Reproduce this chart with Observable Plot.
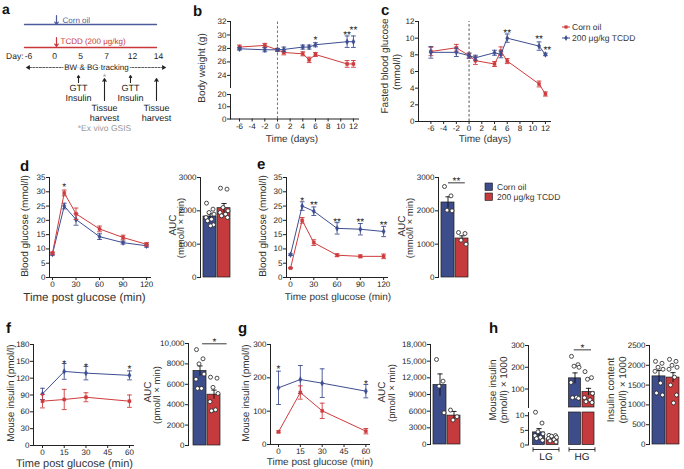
<!DOCTYPE html>
<html>
<head>
<meta charset="utf-8">
<script src="https://cdn.jsdelivr.net/npm/d3@7"></script>
<script src="https://cdn.jsdelivr.net/npm/@observablehq/plot@0.6"></script>
<style>
html, body { margin: 0; padding: 0; background: #fff; }
#root { position: relative; width: 684px; height: 469px; overflow: hidden; background: #fff; }
#root svg { position: absolute; overflow: visible; }
#root text { text-rendering: geometricPrecision; }
</style>
</head>
<body>
<div id="root"></div>
<script>
// ================= DATA =================
// panel a (schematic)
const schemeDays = ["-6", "0", "5", "7", "12", "14"];
const schemeEventDays = ["5", "7", "12", "14"];
const schemeEventLine1 = ["GTT", "Tissue", "GTT", "Tissue"];
const schemeEventLine2 = ["Insulin", "harvest", "Insulin", "harvest"];
const schemeEventHarvest = [false, true, false, true];
const schemeGroups = ["Corn oil", "TCDD (200 μg/kg)"];

// panel b: body weight (g)
const bDays = [-6, -2, 0, 1, 4, 5, 6, 11, 12];
const bRedMean = [28.2, 28.45, 27.8, 27.4, 27.2, 26.3, 27.1, 25.7, 25.7];
const bRedSem = [0.3, 0.3, 0.2, 0.35, 0.3, 0.4, 0.3, 0.5, 0.5];
const bBlueMean = [27.95, 27.8, 27.8, 27.85, 28.2, 28.2, 28.55, 29.0, 29.0];
const bBlueSem = [0.2, 0.3, 0.2, 0.35, 0.3, 0.3, 0.3, 0.85, 0.85];
const bStarDays = [6, 11, 12];
const bStarLevel = [29.6, 30.4, 31.15];
const bStarText = ["*", "**", "**"];
const dayTicks = [-6, -4, -2, 0, 2, 4, 6, 8, 10, 12];
const bTicksUpper = [24, 26, 28, 30, 32];
const bTicksLower = [0, 10, 20];

// panel c: fasted blood glucose (mmol/l)
const cDays = [-6, -2, 0, 1, 4, 5, 6, 11, 12];
const cRedMean = [8.4, 8.85, 7.9, 7.3, 6.9, 8.45, 7.25, 4.5, 3.3];
const cRedSem = [0.5, 0.4, 0.3, 0.45, 0.3, 0.5, 0.3, 0.35, 0.25];
const cBlueMean = [8.3, 8.3, 7.9, 7.65, 8.25, 8.05, 10.0, 9.05, 8.05];
const cBlueSem = [0.7, 0.5, 0.3, 0.3, 0.3, 0.4, 0.5, 0.5, 0.15];
const cStarDays = [6, 11, 12.3];
const cStarLevel = [11.0, 10.2, 8.9];
const cStarText = ["**", "**", "**"];
const cTicksY = [0, 2, 4, 6, 8, 10, 12];
const cLegend = ["Corn oil", "200 μg/kg TCDD"];

// panel d: GTT day 5
const gttMinutes = [0, 15, 30, 60, 90, 120];
const gttTicks = [0, 30, 60, 90, 120];
const glucoseTicks = [0, 5, 10, 15, 20, 25, 30, 35];
const dRedMean = [8.5, 29.6, 22.3, 17.0, 14.0, 11.6];
const dRedSem = [0.4, 1.0, 2.0, 1.0, 0.8, 0.6];
const dBlueMean = [8.2, 25.0, 20.3, 14.3, 12.2, 11.1];
const dBlueSem = [0.4, 1.0, 2.0, 1.0, 0.5, 0.5];
const dStarMinutes = [15];
const dStarLevel = [32.5];
const dStarText = ["*"];
const dAucMean = [1830, 2080];
const dAucSem = [80, 140];
const dAucBlue = [2230, 2050, 1950, 1900, 1800, 1750, 1700, 1580, 1550];
const dAucRed = [2680, 2650, 2100, 2000, 1950, 1900, 1850, 1800];
const aucGlucoseTicks = [0, 1000, 2000, 3000];

// panel e: GTT day 12
const eBlueMean = [8.0, 25.0, 23.2, 17.2, 16.9, 16.1];
const eBlueSem = [0.3, 1.5, 1.5, 2.0, 2.0, 1.8];
const eRedMean = [3.3, 20.0, 12.2, 7.8, 7.4, 7.4];
const eRedSem = [0.2, 1.0, 1.0, 0.5, 0.5, 0.8];
const eStarMinutes = [15, 30, 60, 90, 120];
const eStarLevel = [27.8, 26.4, 20.5, 20.5, 19.4];
const eStarText = ["*", "**", "**", "**", "**"];
const eAucMean = [2250, 1170];
const eAucSem = [170, 80];
const eAucBlue = [2730, 2450, 2020, 2000];
const eAucRed = [1350, 1320, 1120, 1000];
const eSigSpan = [0, 1.2];
const eSigLevel = [2840, 2990];
const eSigText = "**";

// panel f: insulin day 5
const insMinutes = [0, 15, 30, 60];
const insTicks = [0, 15, 30, 45, 60];
const fBlueMean = [92, 132, 129, 125];
const fBlueSem = [10, 14, 12, 8];
const fRedMean = [79, 82, 86, 79];
const fRedSem = [12, 18, 8, 11];
const fTicksY = [0, 30, 60, 90, 120, 150, 180];
const fStarMinutes = [15, 30, 60];
const fStarLevel = [150, 145.5, 141];
const fStarText = ["*", "*", "*"];
const fAucMean = [7300, 4980];
const fAucSem = [500, 450];
const fAucBlue = [9400, 8500, 8000, 7000, 6500, 5600, 5600];
const fAucRed = [6700, 6600, 5700, 5100, 4300, 3500, 3400];
const fAucTicks = [0, 2000, 4000, 6000, 8000, 10000];
const fSigSpan = [0.15, 1.9];
const fSigLevel = [9970, 10450];
const fSigText = "*";

// panel g: insulin day 12
const gBlueMean = [170, 195, 184, 160];
const gBlueSem = [50, 42, 43, 20];
const gRedMean = [38, 156, 101, 40];
const gRedSem = [3, 20, 23, 8];
const gTicksY = [0, 100, 200, 300];
const gStarMinutes = [0, 60];
const gStarLevel = [234, 189];
const gStarText = ["*", "*"];
const gAucMean = [10700, 5200];
const gAucSem = [2000, 750];
const gAucBlue = [15300, 11400, 10500, 5700];
const gAucRed = [6200, 5000, 4400];
const gAucTicks = [0, 3000, 6000, 9000, 12000, 15000, 18000];

// panel h: ex vivo GSIS
const hGroups = ["LG", "HG"];
const hBlueMean = [4.3, 149];
const hBlueSem = [1.3, 25];
const hRedMean = [2.0, 86];
const hRedSem = [0.35, 17];
const hBlueDots = [[11.2, 7.5, 4.5, 3.8, 3.2, 2.6, 2.2, 1.6], [250, 212, 205, 200, 130, 62, 60, 57]];
const hRedDots = [[3.3, 3.2, 3.0, 2.6, 2.2, 1.8, 1.4, 1.0], [180, 152, 145, 80, 60, 50, 42, 38]];
const hTicksUpper = [100, 200, 300];
const hTicksLower = [0, 5, 10];
const hSigSpan = [0.77, 1.25];
const hSigLevel = [280, 300];
const hSigText = "*";
const contentMean = [1720, 1690];
const contentSem = [150, 125];
const contentBlue = [2100, 2050, 1950, 1900, 1850, 1550, 1300, 1250];
const contentRed = [2150, 2100, 2000, 1950, 1900, 1700, 1500, 1250, 1050];
const contentTicks = [0, 500, 1000, 1500, 2000, 2500];

const barLegend = ["Corn oil", "200 μg/kg TCDD"];

// ================= STYLE / HELPERS =================
const W = 684, H = 469;
const FONT = '"Liberation Sans", Arial, Helvetica, sans-serif';
const INK = "#222";
const TITLE_INK = "#333";
const BLUE = "#3e4e91", RED = "#cf3b3c";
const BAR_BLUE = "#3d4d8b", BAR_RED = "#c53a3c";
const SCHEME_BLUE = "#4c5b9b", SCHEME_RED = "#c8383b";
const DASH_GRAY = "#666";
const AX = {tickSize: 3, tickPadding: 1, line: true, label: null};
const root = document.getElementById("root");

const CAP = {draw(ctx, size) { const r = Math.sqrt(size / Math.PI); ctx.moveTo(-r, 0); ctx.lineTo(r, 0); }};
const VBAR = {draw(ctx, size) { const r = Math.sqrt(size / Math.PI); ctx.moveTo(0, -r); ctx.lineTo(0, r); }};
const JIT = [-3.5, 3, -1, 4, -4, 1.5, -2.5, 3.5, 0.5];
const thousands = d => d >= 10000 ? d3.format(",")(d) : String(d);
const plain = d => String(d);

function place(f, opts) {
  const ml = f.ml ?? 30, mr = f.mr ?? 6, mt = f.mt ?? 6, mb = f.mb ?? 18;
  const svg = Plot.plot({
    width: f.x1 - f.x0 + ml + mr,
    height: f.y1 - f.y0 + mt + mb,
    marginLeft: ml, marginRight: mr, marginTop: mt, marginBottom: mb,
    style: {fontFamily: FONT, fontSize: "8px", color: INK, background: "transparent", overflow: "visible"},
    ...opts
  });
  svg.style.position = "absolute";
  svg.style.left = (f.x0 - ml) + "px";
  svg.style.top = (f.y0 - mt) + "px";
  root.appendChild(svg);
  return svg;
}

const rowsOf = (t, m, e) => t.map((v, i) => ({t: v, m: m[i], e: e[i]}));
const starsOf = (t, y, s) => t.map((v, i) => ({t: v, y: y[i], s: s[i]}));

function seriesMarks(rows, color, symbol, r) {
  return [
    Plot.line(rows, {x: "t", y: "m", stroke: color, strokeWidth: 1}),
    Plot.ruleX(rows, {x: "t", y1: d => d.m - d.e, y2: d => d.m + d.e, stroke: color, strokeWidth: 0.9}),
    Plot.dot(rows, {x: "t", y: d => d.m + d.e, symbol: CAP, r: 2.4, stroke: color, fill: "none", strokeWidth: 0.9}),
    Plot.dot(rows, {x: "t", y: d => d.m - d.e, symbol: CAP, r: 2.4, stroke: color, fill: "none", strokeWidth: 0.9}),
    Plot.dot(rows, {x: "t", y: "m", symbol, r, fill: color, stroke: color, strokeWidth: 0.3})
  ];
}
const starMarks = stars => Plot.text(stars, {x: "t", y: "y", text: "s", fontSize: 10, dy: 2.5, fill: INK});

function barMarks({g, m, e, dots, fill, unit, halfPx = 6.5, base = 0, top = Infinity, detail = true}) {
  const w = halfPx / unit;
  const bar = [{g, m, e}];
  const pts = dots.map((v, i) => ({x: g + JIT[i % JIT.length] / unit, v}));
  const out = [
    Plot.rect(bar, {x1: d => d.g - w, x2: d => d.g + w, y1: base, y2: d => Math.min(d.m, top),
      fill, stroke: "#1a1a1a", strokeWidth: 0.7})
  ];
  if (detail) out.push(
    Plot.ruleX(bar, {x: "g", y1: d => d.m - d.e, y2: d => d.m + d.e, stroke: "#111", strokeWidth: 0.9}),
    Plot.dot(bar, {x: "g", y: d => d.m + d.e, symbol: CAP, r: 2.6, stroke: "#111", fill: "none", strokeWidth: 0.9}),
    Plot.dot(pts, {x: "x", y: "v", r: 2, fill: "white", stroke: "#222", strokeWidth: 0.8})
  );
  return out;
}

function sigMarks(span, level, label) {
  return [
    Plot.link([{a: span[0], b: span[1], y: level[0]}], {x1: "a", x2: "b", y1: "y", y2: "y", stroke: INK, strokeWidth: 0.9}),
    Plot.text([{x: (span[0] + span[1]) / 2, y: level[1], s: label}], {x: "x", y: "y", text: "s", fontSize: 10, dy: 2.5, fill: INK})
  ];
}

function aucPanel(f, yDomain, yTicks, means, sems, dotsBlue, dotsRed, extra = []) {
  const unit = 14;
  return place({x0: f.x0, x1: f.x1, y0: f.y0, y1: f.y1, mb: 4}, {
    x: {domain: [(f.x0 - f.bc) / unit, (f.x1 - f.bc) / unit], axis: null},
    y: {domain: yDomain, ticks: yTicks, tickFormat: thousands, ...AX},
    marks: [
      ...barMarks({g: 0, m: means[0], e: sems[0], dots: dotsBlue, fill: BAR_BLUE, unit}),
      ...barMarks({g: 1, m: means[1], e: sems[1], dots: dotsRed, fill: BAR_RED, unit}),
      ...extra
    ]
  });
}

// ================= PANEL a (schematic) =================
{
  const events = schemeEventDays.map((d, i) => ({day: d, l1: schemeEventLine1[i], l2: schemeEventLine2[i], harvest: schemeEventHarvest[i]}));
  place({x0: 26, x1: 156, y0: 0, y1: 140, ml: 26, mr: 14, mt: 0, mb: 0}, {
    x: {type: "point", domain: schemeDays, padding: 0, axis: null},
    y: {domain: [0, 140], range: [0, 140], axis: null},
    marks: [
      Plot.arrow([{a: "-6", b: "14"}], {x1: "a", x2: "b", y1: 24, y2: 24, headLength: 0, insetStart: -2, stroke: SCHEME_BLUE, strokeWidth: 1.3}),
      Plot.arrow([{a: "-6", b: "14"}], {x1: "a", x2: "b", y1: 47, y2: 47, headLength: 0, insetStart: -2, stroke: SCHEME_RED, strokeWidth: 1.3}),
      Plot.arrow([{d: "0"}], {x1: "d", x2: "d", y1: 15, y2: 24, headLength: 4, headAngle: 70, stroke: SCHEME_BLUE, strokeWidth: 1.2, dx: 4}),
      Plot.arrow([{d: "0"}], {x1: "d", x2: "d", y1: 37, y2: 46, headLength: 4, headAngle: 70, stroke: SCHEME_RED, strokeWidth: 1.2, dx: 4}),
      Plot.text([{d: "0", s: schemeGroups[0]}], {x: "d", y: 20, text: "s", textAnchor: "start", dx: 10, fontSize: 8, fill: SCHEME_BLUE}),
      Plot.text([{d: "0", s: schemeGroups[1]}], {x: "d", y: 41, text: "s", textAnchor: "start", dx: 8, fontSize: 8, fill: SCHEME_RED}),
      Plot.text(schemeDays, {x: d => d, y: 56, text: d => d, fontSize: 8.5, fill: INK, dx: 2}),
      Plot.text([{d: "-6", s: "Day:"}], {x: "d", y: 56, text: "s", textAnchor: "end", dx: -3, fontSize: 8.5, fill: INK}),
      Plot.arrow([{a: "-6", b: "14"}], {x1: "a", x2: "b", y1: 67, y2: 67, headLength: 0, insetStart: 3, insetEnd: -5, stroke: "#333", strokeWidth: 0.8, strokeDasharray: "2,1.3"}),
      Plot.dot([{d: "-6"}], {x: "d", y: 67, symbol: "triangle", r: 1.8, rotate: -90, fill: "#222", dx: 2}),
      Plot.dot([{d: "14"}], {x: "d", y: 67, symbol: "triangle", r: 1.8, rotate: 90, fill: "#222", dx: 7}),
      Plot.text([{d: "7", s: "BW & BG tracking"}], {x: "d", y: 67, text: "s", dx: -8, fontSize: 8, fill: INK, stroke: "white", strokeWidth: 3}),
      Plot.arrow(events, {x1: "day", x2: "day", y1: d => d.harvest ? 100 : 82, y2: d => d.harvest ? 78 : 75, headLength: 4.5, headAngle: 60, stroke: INK, strokeWidth: 1.1}),
      Plot.text(events, {x: "day", y: d => d.harvest ? 107.5 : 88, text: "l1", fontSize: 9, fill: INK}),
      Plot.text(events, {x: "day", y: d => d.harvest ? 117.5 : 98, text: "l2", fontSize: 9, fill: INK}),
      Plot.text([{d: "7"}], {x: "d", y: 75, text: () => "*", fontSize: 9, dy: 2, fill: "#9a9a9a"}),
      Plot.text([{d: "7", s: "*Ex vivo GSIS"}], {x: "d", y: 128, text: "s", fontSize: 8.5, fill: "#9a9a9a"})
    ]
  });
}

// ================= PANEL b =================
place({x0: 230, x1: 358, y0: 21, y1: 87, mb: 4}, {
  x: {domain: [-7.42, 12.8], axis: null},
  y: {domain: [22.2, 32], ticks: bTicksUpper, tickFormat: plain, ...AX},
  marks: [
    Plot.ruleX([0], {y1: 22.2, y2: 32, stroke: DASH_GRAY, strokeDasharray: "2.5,2", strokeWidth: 0.9}),
    ...seriesMarks(rowsOf(bDays, bRedMean, bRedSem), RED, "square", 1.8),
    ...seriesMarks(rowsOf(bDays, bBlueMean, bBlueSem), BLUE, "diamond", 1.8),
    starMarks(starsOf(bStarDays, bStarLevel, bStarText))
  ]
});
place({x0: 230, x1: 358, y0: 94, y1: 118.5, mt: 2}, {
  x: {domain: [-7.42, 12.8], ticks: dayTicks, tickFormat: plain, ...AX},
  y: {domain: [0, 20], ticks: bTicksLower, tickFormat: plain, ...AX},
  marks: [Plot.ruleX([0], {y1: 0, y2: 25.8, stroke: DASH_GRAY, strokeDasharray: "2.5,2", strokeWidth: 0.9})]
});

// ================= PANEL c =================
place({x0: 418, x1: 550, y0: 21, y1: 121}, {
  x: {domain: [-7.95, 12.8], ticks: dayTicks, tickFormat: plain, ...AX},
  y: {domain: [0, 12], ticks: cTicksY, tickFormat: plain, ...AX},
  marks: [
    Plot.ruleX([0], {y1: 0, y2: 12, stroke: "#444", strokeDasharray: "2.5,2", strokeWidth: 0.9}),
    ...seriesMarks(rowsOf(cDays, cRedMean, cRedSem), RED, "square", 1.8),
    ...seriesMarks(rowsOf(cDays, cBlueMean, cBlueSem), BLUE, "diamond", 1.8),
    starMarks(starsOf(cStarDays, cStarLevel, cStarText))
  ]
});

// ================= PANEL d =================
place({x0: 49, x1: 150, y0: 177, y1: 277}, {
  x: {domain: [-3.8, 125], ticks: gttTicks, tickFormat: plain, ...AX},
  y: {domain: [0, 35], ticks: glucoseTicks, tickFormat: plain, ...AX},
  marks: [
    ...seriesMarks(rowsOf(gttMinutes, dBlueMean, dBlueSem), BLUE, "diamond", 1.8),
    ...seriesMarks(rowsOf(gttMinutes, dRedMean, dRedSem), RED, "square", 1.8),
    starMarks(starsOf(dStarMinutes, dStarLevel, dStarText))
  ]
});
aucPanel({x0: 200, x1: 232, y0: 177, y1: 277, bc: 209.5}, [0, 3000], aucGlucoseTicks, dAucMean, dAucSem, dAucBlue, dAucRed);

// ================= PANEL e =================
place({x0: 286, x1: 387, y0: 177, y1: 277}, {
  x: {domain: [-5.2, 125], ticks: gttTicks, tickFormat: plain, ...AX},
  y: {domain: [0, 35], ticks: glucoseTicks, tickFormat: plain, ...AX},
  marks: [
    ...seriesMarks(rowsOf(gttMinutes, eBlueMean, eBlueSem), BLUE, "diamond", 1.8),
    ...seriesMarks(rowsOf(gttMinutes, eRedMean, eRedSem), RED, "square", 1.8),
    starMarks(starsOf(eStarMinutes, eStarLevel, eStarText))
  ]
});
aucPanel({x0: 438, x1: 470, y0: 177, y1: 277, bc: 447.5}, [0, 3000], aucGlucoseTicks, eAucMean, eAucSem, eAucBlue, eAucRed,
  sigMarks(eSigSpan, eSigLevel, eSigText));

// ================= PANEL f =================
place({x0: 33, x1: 133, y0: 344, y1: 445}, {
  x: {domain: [-6.2, 62.8], ticks: insTicks, tickFormat: plain, ...AX},
  y: {domain: [0, 180], ticks: fTicksY, tickFormat: plain, ...AX},
  marks: [
    ...seriesMarks(rowsOf(insMinutes, fBlueMean, fBlueSem), BLUE, "diamond", 1.8),
    ...seriesMarks(rowsOf(insMinutes, fRedMean, fRedSem), RED, "square", 1.8),
    starMarks(starsOf(fStarMinutes, fStarLevel, fStarText))
  ]
});
aucPanel({x0: 188, x1: 222, y0: 343, y1: 445, bc: 199.5}, [0, 10000], fAucTicks, fAucMean, fAucSem, fAucBlue, fAucRed,
  sigMarks(fSigSpan, fSigLevel, fSigText));

// ================= PANEL g =================
place({x0: 270, x1: 369, y0: 344, y1: 444}, {
  x: {domain: [-5.5, 62.5], ticks: insTicks, tickFormat: plain, ...AX},
  y: {domain: [0, 300], ticks: gTicksY, tickFormat: plain, ...AX},
  marks: [
    ...seriesMarks(rowsOf(insMinutes, gBlueMean, gBlueSem), BLUE, "diamond", 1.8),
    ...seriesMarks(rowsOf(insMinutes, gRedMean, gRedSem), RED, "square", 1.8),
    starMarks(starsOf(gStarMinutes, gStarLevel, gStarText))
  ]
});
aucPanel({x0: 430, x1: 462, y0: 344, y1: 444, bc: 439.5}, [0, 18000], gAucTicks, gAucMean, gAucSem, gAucBlue, gAucRed);

// ================= PANEL h =================
{
  const unit = 36;
  const hx = {domain: [(528 - 545.5) / unit, (598 - 545.5) / unit], axis: null};
  const LOW_TOP = 11.1, UP_BASE = 15;
  const blueG = i => i - 7 / unit, redG = i => i + 6.5 / unit;
  const lower = [], upper = [];
  hGroups.forEach((name, i) => {
    const inLow = hBlueMean[i] <= LOW_TOP;
    lower.push(...barMarks({g: blueG(i), m: hBlueMean[i], e: hBlueSem[i], dots: hBlueDots[i], fill: BAR_BLUE, unit, halfPx: 6, top: LOW_TOP, detail: inLow}));
    lower.push(...barMarks({g: redG(i), m: hRedMean[i], e: hRedSem[i], dots: hRedDots[i], fill: BAR_RED, unit, halfPx: 6, top: LOW_TOP, detail: hRedMean[i] <= LOW_TOP}));
    if (!inLow) upper.push(...barMarks({g: blueG(i), m: hBlueMean[i], e: hBlueSem[i], dots: hBlueDots[i], fill: BAR_BLUE, unit, halfPx: 6, base: UP_BASE}));
    if (hRedMean[i] > LOW_TOP) upper.push(...barMarks({g: redG(i), m: hRedMean[i], e: hRedSem[i], dots: hRedDots[i], fill: BAR_RED, unit, halfPx: 6, base: UP_BASE}));
  });
  const groups = hGroups.map((s, i) => ({i, s}));
  const ends = hGroups.flatMap((s, i) => [{x: i - 0.36}, {x: i + 0.36}]);
  place({x0: 528, x1: 598, y0: 344.7, y1: 406.7, mb: 2}, {
    x: hx,
    y: {domain: [UP_BASE, 300], ticks: hTicksUpper, tickFormat: plain, ...AX},
    marks: [...upper, ...sigMarks(hSigSpan, hSigLevel, hSigText)]
  });
  place({x0: 528, x1: 598, y0: 411.5, y1: 444, mt: 2, mb: 20}, {
    x: hx,
    y: {domain: [0, LOW_TOP], ticks: hTicksLower, tickFormat: plain, ...AX},
    marks: [
      ...lower,
      Plot.link(groups, {x1: d => d.i - 0.36, x2: d => d.i + 0.36, y1: 0, y2: 0, dy: 4.5, stroke: INK, strokeWidth: 0.9}),
      Plot.dot(ends, {x: "x", y: 0, dy: 4.5, symbol: VBAR, r: 2.2, stroke: INK, fill: "none", strokeWidth: 0.9}),
      Plot.text(groups, {x: "i", y: 0, text: "s", dy: 12, fontSize: 10, fill: INK})
    ]
  });
  aucPanel({x0: 649, x1: 682, y0: 345, y1: 444, bc: 658.5}, [0, 2500], contentTicks, contentMean, contentSem, contentBlue, contentRed);
}

// ================= LABELS & LEGENDS =================
const ov = d3.select(root).append("svg")
  .attr("width", W).attr("height", H)
  .style("position", "absolute").style("left", "0px").style("top", "0px")
  .attr("font-family", FONT).attr("fill", INK);

function txt(x, y, s, {size = 10, weight = "normal", anchor = "middle", rotate = false, fill = TITLE_INK} = {}) {
  const t = ov.append("text").text(s).attr("font-size", size).attr("font-weight", weight)
    .attr("text-anchor", anchor).attr("fill", fill);
  if (rotate) t.attr("transform", `translate(${x},${y}) rotate(-90)`).attr("dy", "0.35em");
  else t.attr("x", x).attr("y", y);
  return t;
}
// panel letters
[["a", 2, 14, 14], ["b", 193, 16, 15], ["c", 381, 15, 15], ["d", 20, 171, 15], ["e", 257, 169, 15], ["f", 6, 333, 15], ["g", 238, 333, 15], ["h", 489, 333, 15]]
  .forEach(([s, x, y, sz]) => txt(x, y, s, {size: sz, weight: "bold", anchor: "start", fill: "#111"}));

// axis titles
txt(201, 68, "Body weight (g)", {rotate: true});
txt(292, 142, "Time (days)");
txt(384, 66, "Fasted blood glucose", {rotate: true});
txt(396, 72, "(mmol/l)", {rotate: true});
txt(485, 142, "Time (days)");
txt(24, 226, "Blood glucose (mmol/l)", {rotate: true});
txt(84.5, 301, "Time post glucose (min)", {size: 11.5});
txt(172, 225, "AUC", {rotate: true});
txt(181, 228, "(mmol/l × min)", {rotate: true, size: 9.5});
txt(262, 226, "Blood glucose (mmol/l)", {rotate: true});
txt(338, 300, "Time post glucose (min)");
txt(401, 226, "AUC", {rotate: true});
txt(410, 228, "(mmol/l × min)", {rotate: true, size: 9.5});
txt(10.5, 393, "Mouse insulin (pmol/l)", {rotate: true});
txt(74.5, 466.5, "Time post glucose (min)", {size: 11});
txt(147, 392, "AUC", {rotate: true});
txt(156.5, 395, "(pmol/l × min)", {rotate: true, size: 9.5});
txt(245, 393, "Mouse insulin (pmol/l)", {rotate: true});
txt(320, 465, "Time post glucose (min)");
txt(381, 392, "AUC", {rotate: true});
txt(392, 393, "(pmol/l × min)", {rotate: true, size: 9.5});
txt(492, 390, "Mouse insulin", {rotate: true});
txt(503, 390, "(pmol/l) × 1000", {rotate: true});
txt(610, 390, "Insulin content", {rotate: true});
txt(622, 390, "(pmol/l) × 1000", {rotate: true});

// legend of panel c (line legend)
[[RED, "square", 27, cLegend[0]], [BLUE, "diamond", 38, cLegend[1]]].forEach(([col, sym, y, label]) => {
  ov.append("line").attr("x1", 562).attr("x2", 570).attr("y1", y).attr("y2", y).attr("stroke", col).attr("stroke-width", 1);
  ov.append("path").attr("d", d3.symbol(sym === "square" ? d3.symbolSquare : d3.symbolDiamond, 10)())
    .attr("transform", `translate(566,${y})`).attr("fill", col);
  txt(572, y + 3, label, {size: 8.5, anchor: "start"});
});
// legend of bar charts
[[BAR_BLUE, 183, barLegend[0]], [BAR_RED, 193, barLegend[1]]].forEach(([col, y, label]) => {
  ov.append("rect").attr("x", 485).attr("y", y).attr("width", 7.5).attr("height", 7.5)
    .attr("fill", col).attr("stroke", "#1a1a1a").attr("stroke-width", 0.6);
  txt(497, y + 7, label, {size: 8.5, anchor: "start"});
});
</script>
</body>
</html>
